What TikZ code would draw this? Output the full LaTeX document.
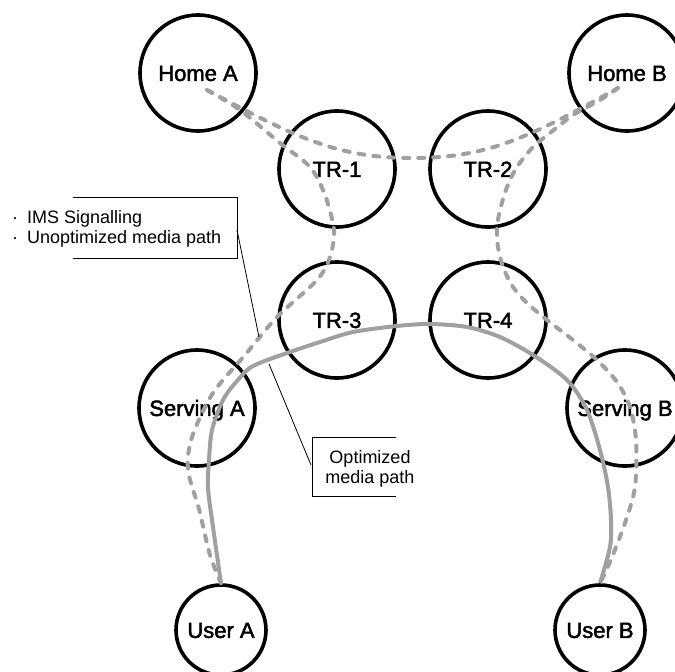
\documentclass[tikz,border=0pt]{standalone}
\usepackage{fontspec}
\setmainfont{Liberation Sans}
\newfontfamily\lblfont{Liberation Sans}[BoldFont={Liberation Sans},BoldFeatures={FakeBold=2.2}]
\definecolor{lnk}{RGB}{160,160,160}
\begin{document}
\begin{tikzpicture}[x=1pt,y=-1pt,
  site/.style={circle,draw=black,line width=3.6pt,minimum size=116pt,inner sep=0pt,
    font=\lblfont\bfseries\fontsize{22}{26}\selectfont,text height=15.8pt,text depth=0pt},
  usr/.style={site,minimum size=90pt},
  sig/.style={draw=lnk,line width=4pt,line cap=round,dash pattern=on 6pt off 9pt},
  opt/.style={draw=lnk,line width=4pt},
  box/.style={draw=black,line width=0.9pt},
  lead/.style={draw=black,line width=0.8pt},
  note/.style={font=\fontsize{18}{20}\selectfont,inner sep=0pt}]
\useasboundingbox (0,0) rectangle (675,672);

% network elements
\node[site] (ha) at (198,73)  {Home A};
\node[site] (hb) at (627,73)  {Home B};
\node[site] (t1) at (337,169) {TR-1};
\node[site] (t2) at (488,169) {TR-2};
\node[site] (t3) at (337,320) {TR-3};
\node[site] (t4) at (488,320) {TR-4};
\node[site] (sa) at (197,408) {Serving A};
\node[site] (sb) at (625,408) {Serving B};
\node[usr]  (ua) at (221,630) {User A};
\node[usr]  (ub) at (600,630) {User B};

% path end points inside the home nodes
\coordinate (ha0) at (207,90);
\coordinate (hb0) at (618,88);

% signalling between the home networks
\draw[sig] (ha0) .. controls (300,140) and (340,158) .. (412,158)
                 .. controls (485,158) and (525,140) .. (hb0);

% unoptimized path, side A
\draw[sig] plot[smooth] coordinates {(ha0) (240,110) (280,143) (310,167) (325,195)
  (334,230) (330,257) (317,280) (277,317) (245,355) (213,393) (192,437) (188,470)
  (199,509) (210,555) (ua.north)};

% unoptimized path, side B
\draw[sig] plot[smooth] coordinates {(hb0) (600,100) (573,115) (550,133) (533,147)
  (517,167) (507,187) (500,210) (497,228) (498,247) (503,267) (513,287) (527,303)
  (547,320) (573,340) (597,360) (617,382) (630,407) (636,440) (635,487) (625,523)
  (610,562) (ub.north)};

% optimized media path
\draw[opt] plot[smooth] coordinates {(ua.north) (213,527) (208,488) (209,460)
  (212,430) (223,400) (237,381) (253,366) (290,352) (320,342) (353,332) (397,326)
  (430,324) (467,327) (500,337) (533,355) (567,380) (587,410) (600,450) (608,487)
  (611,520) (610,547) (ub.north)};

% callout: signalling
\node[note,anchor=base west] (n1) at (12,223) {\makebox[15pt][l]{·}IMS Signalling};
\node[note,anchor=base west] (n2) at (12,243) {\makebox[15pt][l]{·}Unoptimized media path};
\draw[box] (73,197) -- (237,197) -- (237,258) -- (73,258);
\coordinate (k1) at (237,230);
\coordinate (p1) at (259,337);
\draw[lead] (k1) -- (p1);

% callout: optimized path
\node[note,anchor=base] (n3) at (370,463) {Optimized};
\node[note,anchor=base] (n4) at (370,483) {media path};
\draw[box] (396,437) -- (312,437) -- (312,496) -- (396,496);
\coordinate (k2) at (311,465);
\coordinate (p2) at (269,364);
\draw[lead] (k2) -- (p2);
\end{tikzpicture}
\end{document}
